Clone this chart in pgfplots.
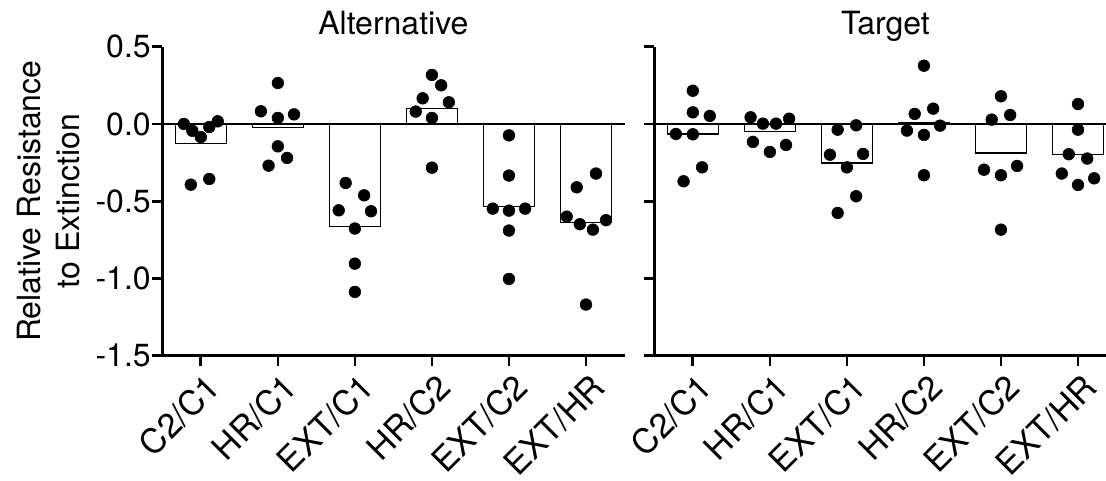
\documentclass[border=0pt]{standalone}
\usepackage{pgfplots}
\usepackage{pgfplotstable}
\pgfplotsset{compat=1.18}
\usepackage{fontspec}
\setmainfont{TeX Gyre Heros}
\newcommand{\bigfont}{\fontsize{24}{29.2}\selectfont}
\newcommand{\xfont}{\fontsize{25.5}{30}\selectfont}

% bar heights (means)
\pgfplotstableread{
x y
0 -0.125
1 -0.022
2 -0.662
3 0.101
4 -0.535
5 -0.638
}\altbars
\pgfplotstableread{
x y
0 -0.065
1 -0.050
2 -0.252
3 0.010
4 -0.188
5 -0.199
}\tarbars
% individual subjects (x = category + jitter)
\pgfplotstableread{
x y
-0.22 0.000
-0.11 -0.044
0.00 -0.085
0.11 -0.020
0.22 0.017
-0.13 -0.393
0.11 -0.356
1.00 0.265
0.78 0.082
1.00 0.039
1.21 0.062
1.00 -0.145
1.12 -0.220
0.88 -0.270
1.88 -0.382
2.12 -0.462
1.79 -0.559
2.21 -0.565
2.00 -0.677
2.00 -0.904
2.00 -1.087
3.00 0.317
3.12 0.250
2.88 0.166
3.22 0.140
2.79 0.080
3.00 0.039
3.00 -0.283
4.00 -0.074
4.00 -0.334
3.79 -0.548
4.00 -0.561
4.21 -0.548
4.00 -0.690
4.00 -1.003
5.13 -0.321
4.88 -0.410
4.75 -0.600
4.92 -0.649
5.09 -0.684
5.26 -0.623
5.00 -1.169
}\altpts
\pgfplotstableread{
x y
0.00 0.215
0.00 0.075
0.22 0.052
-0.22 -0.065
0.00 -0.067
0.12 -0.281
-0.12 -0.371
0.75 0.043
1.25 0.034
0.91 0.002
1.08 0.002
0.78 -0.116
1.21 -0.136
1.00 -0.181
1.88 -0.037
2.12 -0.009
1.78 -0.199
2.21 -0.194
2.00 -0.281
2.12 -0.468
1.88 -0.576
3.00 0.377
3.12 0.099
2.88 0.065
3.21 -0.011
2.78 -0.043
3.00 -0.071
3.00 -0.332
4.00 0.179
4.12 0.058
3.88 0.028
4.21 -0.272
3.78 -0.296
4.00 -0.332
4.00 -0.684
5.00 0.129
5.00 -0.037
4.88 -0.196
5.12 -0.224
4.79 -0.321
5.21 -0.352
5.00 -0.395
}\tarpts
\pgfplotstableread{
x y
-0.5 0
5.5 0
}\zeroline

\pgfplotsset{
  panel/.style={
    scale only axis,
    width=346.65pt, height=231.75pt,
    xmin=-0.5, xmax=5.5,
    ymin=-1.5, ymax=0.5,
    axis x line=bottom, axis y line=left,
    axis line style={-, line width=2pt, black},
    every tick/.style={black, line width=2pt},
    tick align=outside,
    major tick length=7.5pt,
    ytick={-1.5,-1,-0.5,0,0.5},
    xtick={0,1,2,3,4,5},
    xticklabels={C2/C1,HR/C1,EXT/C1,HR/C2,EXT/C2,EXT/HR},
    xticklabel style={font=\xfont, rotate=45, anchor=north east, inner sep=0pt, xshift=-1.5pt, yshift=-5pt},
    yticklabel style={font=\bigfont, inner sep=1pt},
    title style={font=\bigfont, at={(0.5,1)}, anchor=base, yshift=3pt},
    label style={font=\bigfont},
    clip=false,
  },
}

\begin{document}
\begin{tikzpicture}
\path[use as bounding box] (0pt,0pt) rectangle (829.5pt,360.75pt);

\begin{axis}[panel, at={(121.725pt,93.975pt)}, anchor=south west,
  title={Alternative},
  yticklabels={-1.5,-1.0,-0.5,0.0,0.5},
  ylabel={Relative Resistance\\to Extinction},
  ylabel style={align=center, at={(axis description cs:-0.178,0.5)}, anchor=south, inner sep=0pt},
]
\addplot[ybar, bar width=0.665, fill=white, draw=black, line width=1pt] table[x=x,y=y] {\altbars};
\addplot[black, line width=2pt] table[x=x,y=y] {\zeroline};
\addplot[only marks, mark=*, mark size=4.4pt, black, mark options={fill=black, draw=none}] table[x=x,y=y] {\altpts};
\end{axis}

\begin{axis}[panel, at={(490.725pt,93.975pt)}, anchor=south west,
  title={Target},
  yticklabels={},
]
\addplot[ybar, bar width=0.665, fill=white, draw=black, line width=1pt] table[x=x,y=y] {\tarbars};
\addplot[black, line width=2pt] table[x=x,y=y] {\zeroline};
\addplot[only marks, mark=*, mark size=4.4pt, black, mark options={fill=black, draw=none}] table[x=x,y=y] {\tarpts};
\end{axis}
\end{tikzpicture}
\end{document}
